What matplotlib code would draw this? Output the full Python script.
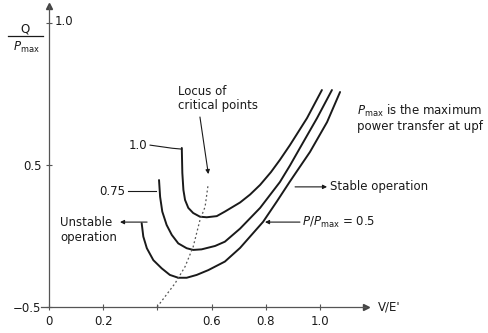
import matplotlib
matplotlib.use('Agg')
import matplotlib.pyplot as plt
from matplotlib.lines import Line2D

plt.rcParams['font.family'] = ['DejaVu Sans']
plt.rcParams['mathtext.fontset'] = 'dejavusans'

# V/E' and Q/Pmax (bottom of the axis = 0)
v_10 = [0.490, 0.492, 0.496, 0.502, 0.514, 0.532, 0.557, 0.582, 0.619, 0.649, 0.705, 0.742,
        0.779, 0.819, 0.852, 0.889, 0.952, 1.007]
q_10 = [0.560, 0.472, 0.412, 0.377, 0.349, 0.331, 0.318, 0.316, 0.320, 0.336, 0.368, 0.396,
        0.430, 0.475, 0.518, 0.570, 0.665, 0.764]

v_075 = [0.406, 0.410, 0.418, 0.434, 0.453, 0.477, 0.508, 0.532, 0.563, 0.613, 0.649, 0.705,
         0.779, 0.852, 0.889, 0.926, 0.989, 1.044]
q_075 = [0.447, 0.388, 0.336, 0.289, 0.254, 0.224, 0.207, 0.201, 0.203, 0.215, 0.230, 0.276,
         0.349, 0.440, 0.498, 0.560, 0.665, 0.764]

v_05 = [0.342, 0.348, 0.361, 0.385, 0.416, 0.446, 0.477, 0.508, 0.545, 0.588, 0.649, 0.705,
        0.790, 0.841, 0.889, 0.963, 1.026, 1.074]
q_05 = [0.295, 0.248, 0.207, 0.165, 0.136, 0.113, 0.103, 0.103, 0.113, 0.130, 0.160, 0.208,
        0.300, 0.372, 0.442, 0.546, 0.651, 0.757]

# locus of critical points
v_locus = [0.399, 0.465, 0.502, 0.532, 0.557, 0.576, 0.587]
q_locus = [0.0, 0.083, 0.142, 0.212, 0.306, 0.353, 0.430]

x_ticks = [0, 0.2, 0.4, 0.6, 0.8, 1.0]
x_labels = ['0', '0.2', '', '0.6', '0.8', '1.0']
y_ticks = [0, 0.5, 1.0]
y_labels = ['\u22120.5', '0.5', '']

ink = '#1a1a1a'
fs = 8.5

fig = plt.figure(figsize=(4.88, 3.33), dpi=100)
ax = fig.add_axes([0, 0, 1, 1])
ax.set_xlim(-0.1808, 1.6199)
ax.set_ylim(-0.0915, 1.081)

for v, q in [(v_10, q_10), (v_075, q_075), (v_05, q_05)]:
    ax.plot(v, q, color=ink, lw=1.4, solid_capstyle='round', solid_joinstyle='round')
ax.plot(v_locus, q_locus, color='#555555', lw=0.9, ls=(0, (1.5, 2)))

# axes through the origin with arrows
for side in ['top', 'right']:
    ax.spines[side].set_visible(False)
ax.spines['left'].set_position(('data', 0))
ax.spines['bottom'].set_position(('data', 0))
ax.spines['left'].set_bounds(0, 1.06)
ax.spines['bottom'].set_bounds(-0.03, 1.17)
for side in ['left', 'bottom']:
    ax.spines[side].set_color('#555555')
    ax.spines[side].set_linewidth(0.9)
ax.plot(1.17, 0, '>', color='#444444', ms=4, clip_on=False)
ax.plot(0, 1.06, '^', color='#444444', ms=4, clip_on=False)

ax.set_xticks(x_ticks)
ax.set_xticklabels(x_labels)
ax.set_yticks(y_ticks)
ax.set_yticklabels(y_labels)
ax.tick_params(axis='both', direction='inout', length=5, width=0.8, colors='#555555',
               labelcolor=ink, labelsize=fs)
ax.tick_params(axis='x', pad=3)
ax.tick_params(axis='y', pad=3)
ax.text(0.022, 1.007, '1.0', fontsize=fs, color=ink, va='center', ha='left')
ax.text(1.215, 0, "V/E'", fontsize=fs, color=ink, va='center', ha='left')

# Q / Pmax label
fig.text(25 / 488, 1 - 29 / 333, 'Q', fontsize=fs, color=ink, ha='center', va='center')
fig.add_artist(Line2D([8 / 488, 43 / 488], [1 - 36 / 333, 1 - 36 / 333], color=ink, lw=0.9))
fig.text(26 / 488, 1 - 47 / 333, r'$P_{\mathrm{max}}$', fontsize=fs, color=ink,
         ha='center', va='center')

# curve labels
ax.text(0.362, 0.570, '1.0', fontsize=fs, color=ink, ha='right', va='center')
ax.plot([0.373, 0.455, 0.490], [0.570, 0.559, 0.556], color=ink, lw=0.8)
ax.text(0.280, 0.408, '0.75', fontsize=fs, color=ink, ha='right', va='center')
ax.plot([0.292, 0.395], [0.408, 0.408], color=ink, lw=0.8)

arrow = dict(arrowstyle='-|>', color=ink, lw=0.8, mutation_scale=6, shrinkA=0, shrinkB=0)
ax.text(0.041, 0.271, 'Unstable\noperation', fontsize=fs, color=ink, ha='left', va='center',
        linespacing=1.15)
ax.annotate('', xy=(0.262, 0.299), xytext=(0.362, 0.299), arrowprops=arrow)

ax.text(1.037, 0.423, 'Stable operation', fontsize=fs, color=ink, ha='left', va='center')
ax.annotate('', xy=(1.026, 0.423), xytext=(0.908, 0.423), arrowprops=arrow)

ax.text(0.934, 0.296, r'$P/P_{\mathrm{max}}$ = 0.5', fontsize=fs, color=ink, ha='left', va='center')
ax.annotate('', xy=(0.797, 0.299), xytext=(0.926, 0.299), arrowprops=arrow)

ax.text(0.476, 0.734, 'Locus of\ncritical points', fontsize=fs, color=ink, ha='left', va='center',
        linespacing=1.1)
ax.annotate('', xy=(0.588, 0.468), xytext=(0.557, 0.669), arrowprops=arrow)

ax.text(1.137, 0.664, r'$P_{\mathrm{max}}$ is the maximum' + '\npower transfer at upf', fontsize=fs,
        color=ink, ha='left', va='center', linespacing=1.1)

fig.savefig('out.png', dpi=100)
